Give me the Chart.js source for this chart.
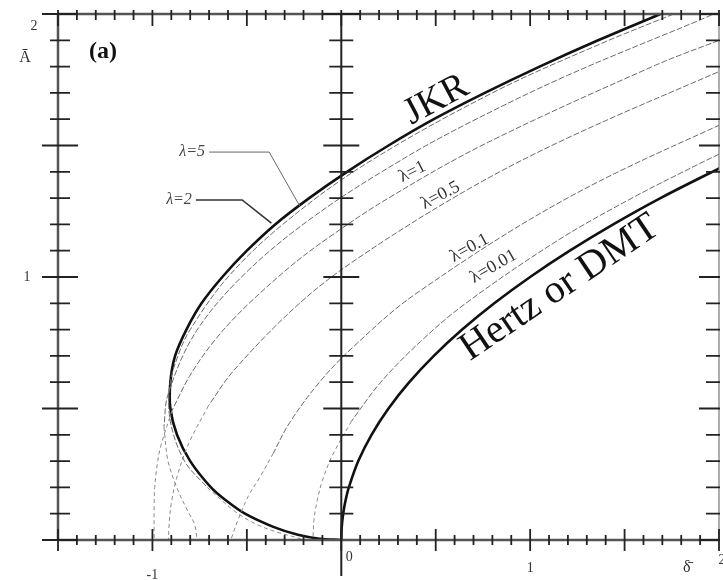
<!DOCTYPE html>
<html>
<head>
<meta charset="utf-8">
<script src="https://cdn.jsdelivr.net/npm/chart.js@4.4.1/dist/chart.umd.min.js"></script>
<style>
html, body { margin: 0; padding: 0; background: #fff; }
#wrap { width: 723px; height: 580px; position: relative; overflow: hidden; }
</style>
</head>
<body>
<div id="wrap"><canvas id="mdChart" width="723" height="580"></canvas></div>
<script>
// Maugis-Dugdale curves: normalised contact radius A against approach delta
const jkrA     = [2.0, 1.9, 1.8, 1.7, 1.6, 1.5, 1.4, 1.3, 1.2, 1.1, 1.0, 0.9, 0.8, 0.7, 0.6, 0.5, 0.4, 0.3, 0.2, 0.15, 0.1, 0.05, 0.02, 0.005, 0];
const jkrDelta = [1.69, 1.36, 1.05, 0.76, 0.49, 0.25, 0.03, -0.17, -0.35, -0.50, -0.63, -0.74, -0.82, -0.88, -0.905, -0.905, -0.87, -0.80, -0.69, -0.61, -0.51, -0.36, -0.23, -0.115, 0];

const hertzA     = [0, 0.05, 0.1, 0.15, 0.2, 0.3, 0.4, 0.5, 0.6, 0.7, 0.8, 0.9, 1.0, 1.1, 1.2, 1.3, 1.42];
const hertzDelta = [0, 0.0025, 0.01, 0.0225, 0.04, 0.09, 0.16, 0.25, 0.36, 0.49, 0.64, 0.81, 1.0, 1.21, 1.44, 1.69, 2.02];

const lam5A     = [2.0, 1.886, 1.7, 1.428, 1.2, 1.0, 0.8, 0.7, 0.587, 0.45, 0.3, 0.2, 0.107, 0.06, 0.03, 0.01, 0];
const lam5Delta = [1.76, 1.371, 0.80, 0.125, -0.31, -0.60, -0.80, -0.865, -0.908, -0.905, -0.83, -0.71, -0.56, -0.45, -0.34, -0.24, -0.2];

const lam2A     = [2.01, 1.986, 1.767, 1.592, 1.451, 1.235, 1.015, 0.788, 0.552, 0.430, 0.303, 0.196, 0.109, 0.060, 0];
const lam2Delta = [2.0, 1.928, 1.199, 0.692, 0.332, -0.136, -0.507, -0.773, -0.918, -0.939, -0.918, -0.869, -0.812, -0.777, -0.763];

const lam1A     = [1.90, 1.805, 1.508, 1.301, 1.149, 1.032, 0.862, 0.745, 0.622, 0.493, 0.354, 0.280, 0.199, 0.128, 0];
const lam1Delta = [2.0, 1.663, 0.766, 0.252, -0.069, -0.283, -0.542, -0.686, -0.804, -0.896, -0.957, -0.976, -0.988, -0.991, -0.991];

const lam05A     = [1.816, 1.528, 1.327, 1.061, 0.891, 0.645, 0.511, 0.365, 0.235, 0.139, 0.069, 0];
const lam05Delta = [2.112, 1.197, 0.656, 0.067, -0.235, -0.569, -0.703, -0.809, -0.872, -0.900, -0.911, -0.915];

const lam01A     = [1.643, 1.305, 0.934, 0.730, 0.603, 0.447, 0.330, 0.240, 0.170, 0.080, 0];
const lam01Delta = [2.198, 1.210, 0.390, 0.057, -0.112, -0.273, -0.36, -0.43, -0.49, -0.545, -0.585];

const lam001A     = [1.467, 1.431, 1.3, 1.139, 0.9, 0.755, 0.6, 0.452, 0.323, 0.226, 0.141, 0.075, 0];
const lam001Delta = [2.0, 1.897, 1.539, 1.146, 0.659, 0.420, 0.209, 0.054, -0.046, -0.100, -0.130, -0.145, -0.150];

// index where each lambda curve turns into its lower (unstable) branch
const lambdaNames  = ['λ=5', 'λ=2', 'λ=1', 'λ=0.5', 'λ=0.1', 'λ=0.01'];
const lambdaSplits = [11, 9, 9, 6, 6, 7];

const xTickValues = [-1, 0, 1, 2];
const xTickLabels = ['-1', '0', '1', '2'];
const yTickValues = [1, 2];
const yTickLabels = ['1', '2'];

function pts(xs, ys) { return xs.map((x, i) => ({ x: x, y: ys[i] })); }

const lambdaData = [
    [lam5Delta, lam5A], [lam2Delta, lam2A], [lam1Delta, lam1A],
    [lam05Delta, lam05A], [lam01Delta, lam01A], [lam001Delta, lam001A]
];

const datasets = [];
lambdaData.forEach((c, i) => {
    const all = pts(c[0], c[1]);
    const k = lambdaSplits[i];
    datasets.push({ label: lambdaNames[i], data: all.slice(0, k + 1), borderColor: '#6a6a6a', borderWidth: 1, borderDash: [6, 2] });
    datasets.push({ label: lambdaNames[i] + ' lower', data: all.slice(k), borderColor: '#8a8a8a', borderWidth: 1, borderDash: [4, 3] });
});
datasets.push({ label: 'JKR', data: pts(jkrDelta, jkrA), borderColor: '#111', borderWidth: 2.6 });
datasets.push({ label: 'Hertz or DMT', data: pts(hertzDelta, hertzA), borderColor: '#111', borderWidth: 2.6 });
datasets.forEach(d => { d.showLine = true; d.pointRadius = 0; d.tension = 0.35; d.fill = false; });

const SERIF = "'Liberation Serif', 'DejaVu Serif', serif";

// frame, cross ticks and the lettering of the plate
const paperFrame = {
    id: 'paperFrame',
    afterDatasetsDraw(chart) {
        const { ctx, chartArea: { left, right, top, bottom }, scales: { x, y } } = chart;
        const x0 = x.getPixelForValue(0);
        ctx.save();

        // frame lines
        ctx.strokeStyle = '#555';
        ctx.lineWidth = 2.5;
        ctx.beginPath();
        ctx.moveTo(left, top); ctx.lineTo(right, top);
        ctx.moveTo(left, bottom); ctx.lineTo(right, bottom);
        ctx.moveTo(left, top); ctx.lineTo(left, bottom);
        ctx.stroke();
        ctx.lineWidth = 1.2;
        ctx.strokeStyle = '#777';
        ctx.beginPath();
        ctx.moveTo(right, top); ctx.lineTo(right, bottom);
        ctx.stroke();
        // delta = 0 axis
        ctx.strokeStyle = '#222';
        ctx.lineWidth = 2;
        ctx.beginPath();
        ctx.moveTo(x0, top); ctx.lineTo(x0, bottom + 36);
        ctx.stroke();

        ctx.strokeStyle = '#222';
        ctx.lineWidth = 1.8;
        ctx.beginPath();
        for (let i = -15; i <= 20; i++) {
            const px = x.getPixelForValue(i / 10);
            const major = i % 5 === 0;
            ctx.moveTo(px, bottom - (major ? 11 : 5)); ctx.lineTo(px, bottom + (major ? 11 : 5));
            ctx.moveTo(px, top - 4); ctx.lineTo(px, top + (major ? 12 : 6));
        }
        for (let j = 0; j <= 20; j++) {
            const py = y.getPixelForValue(j / 10);
            const major = j % 5 === 0;
            ctx.moveTo(left - (major ? 16 : 8), py); ctx.lineTo(left + (major ? 20 : 12), py);
            ctx.moveTo(right - (major ? 20 : 13), py); ctx.lineTo(right + 1, py);
            if (j > 0) { ctx.moveTo(x0 - (major ? 18 : 12), py); ctx.lineTo(x0 + (major ? 18 : 12), py); }
        }
        ctx.stroke();

        // tick numbers
        ctx.fillStyle = '#333';
        ctx.font = '14px ' + SERIF;
        ctx.textAlign = 'center';
        ctx.textBaseline = 'middle';
        const xLabelDrop = [35, 17, 28, 20];
        const xLabelShift = [0, 8, 0, 3];
        xTickValues.forEach((v, i) => {
            ctx.fillText(xTickLabels[i], x.getPixelForValue(v) + xLabelShift[i], bottom + xLabelDrop[i]);
        });
        const yLabelShift = [-31, -24];
        yTickValues.forEach((v, i) => {
            ctx.fillText(yTickLabels[i], left + yLabelShift[i], y.getPixelForValue(v) + (v === 2 ? 12 : 0));
        });
        ctx.font = '16px ' + SERIF;
        ctx.fillText('Ā', left - 33, y.getPixelForValue(1.835));
        ctx.fillText('δ̄', x.getPixelForValue(1.83), bottom + 28);

        ctx.font = 'bold 24px ' + SERIF;
        ctx.fillStyle = '#111';
        ctx.fillText('(a)', x.getPixelForValue(-1.262), y.getPixelForValue(1.855));

        // curve names along the curves
        const along = (text, dx, dy, deg, size) => {
            ctx.save();
            ctx.translate(x.getPixelForValue(dx), y.getPixelForValue(dy));
            ctx.rotate(deg * Math.PI / 180);
            ctx.font = size + 'px ' + SERIF;
            ctx.fillText(text, 0, 0);
            ctx.restore();
        };
        ctx.fillStyle = '#111';
        along('JKR', 0.504, 1.673, -28, 38);
        along('Hertz or DMT', 1.157, 0.958, -34, 40);
        ctx.fillStyle = '#333';
        along('λ=1', 0.377, 1.40, -27, 18);
        along('λ=0.5', 0.525, 1.31, -28, 18);
        along('λ=0.1', 0.679, 1.11, -29, 18);
        along('λ=0.01', 0.806, 1.04, -30, 18);

        // pointer labels on the left
        const pointer = (text, pathX, pathY, width, colour) => {
            ctx.strokeStyle = colour;
            ctx.lineWidth = width;
            ctx.beginPath();
            pathX.forEach((v, i) => {
                const px = x.getPixelForValue(v), py = y.getPixelForValue(pathY[i]);
                if (i === 0) ctx.moveTo(px, py); else ctx.lineTo(px, py);
            });
            ctx.stroke();
            ctx.font = 'italic 16px ' + SERIF;
            ctx.textAlign = 'right';
            ctx.fillStyle = '#444';
            ctx.fillText(text, x.getPixelForValue(pathX[0]) - 4, y.getPixelForValue(pathY[0]));
        };
        pointer('λ=5', [-0.70, -0.382, -0.22], [1.475, 1.475, 1.27], 1, '#666');
        pointer('λ=2', [-0.77, -0.525, -0.37], [1.293, 1.293, 1.205], 1.6, '#333');

        ctx.restore();
    }
};

new Chart(document.getElementById('mdChart'), {
    type: 'scatter',
    data: { datasets: datasets },
    options: {
        responsive: false,
        animation: false,
        devicePixelRatio: 1,
        layout: { padding: { left: 58, top: 14, right: 4, bottom: 40 } },
        scales: {
            x: { type: 'linear', min: -1.5, max: 2, display: false },
            y: { type: 'linear', min: 0, max: 2, display: false }
        },
        plugins: { legend: { display: false }, tooltip: { enabled: false } }
    },
    plugins: [paperFrame]
});
</script>
</body>
</html>
